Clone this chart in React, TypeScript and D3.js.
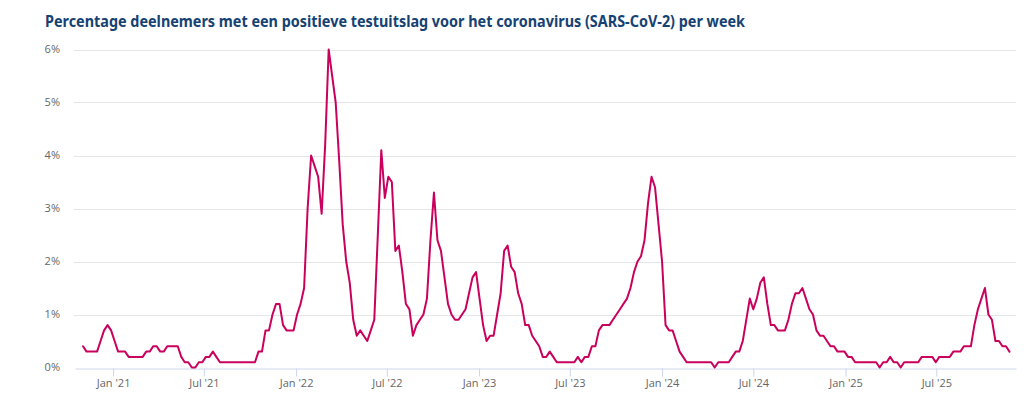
import React, { useRef, useEffect } from 'react';
import * as d3 from 'd3';

// weekly values (% positive), first week starts Monday 2 Nov 2020
const firstWeek = Date.UTC(2020, 10, 2);

const values2020 = [0.4, 0.3, 0.3, 0.3, 0.3, 0.5, 0.7, 0.8, 0.7];
const values2021 = [
  0.5, 0.3, 0.3, 0.3, 0.2, 0.2, 0.2, 0.2, 0.2, 0.3, 0.3, 0.4, 0.4,
  0.3, 0.3, 0.4, 0.4, 0.4, 0.4, 0.2, 0.1, 0.1, 0.0, 0.0, 0.1, 0.1,
  0.2, 0.2, 0.3, 0.2, 0.1, 0.1, 0.1, 0.1, 0.1, 0.1, 0.1, 0.1, 0.1,
  0.1, 0.1, 0.3, 0.3, 0.7, 0.7, 1.0, 1.2, 1.2, 0.8, 0.7, 0.7, 0.7,
];
const values2022 = [
  1.0, 1.2, 1.5, 3.0, 4.0, 3.8, 3.6, 2.9, 4.2, 6.0, 5.5, 5.0, 3.9,
  2.7, 2.0, 1.6, 0.9, 0.6, 0.7, 0.6, 0.5, 0.7, 0.9, 2.5, 4.1, 3.2,
  3.6, 3.5, 2.2, 2.3, 1.8, 1.2, 1.1, 0.6, 0.8, 0.9, 1.0, 1.3, 2.4,
  3.3, 2.4, 2.2, 1.7, 1.2, 1.0, 0.9, 0.9, 1.0, 1.1, 1.4, 1.7, 1.8,
];
const values2023 = [
  1.3, 0.8, 0.5, 0.6, 0.6, 1.0, 1.4, 2.2, 2.3, 1.9, 1.8, 1.4, 1.2,
  0.8, 0.8, 0.6, 0.5, 0.4, 0.2, 0.2, 0.3, 0.2, 0.1, 0.1, 0.1, 0.1,
  0.1, 0.1, 0.2, 0.1, 0.2, 0.2, 0.4, 0.4, 0.7, 0.8, 0.8, 0.8, 0.9,
  1.0, 1.1, 1.2, 1.3, 1.5, 1.8, 2.0, 2.1, 2.4, 3.1, 3.6, 3.4, 2.7,
];
const values2024 = [
  2.0, 0.8, 0.7, 0.7, 0.5, 0.3, 0.2, 0.1, 0.1, 0.1, 0.1, 0.1, 0.1,
  0.1, 0.1, 0.0, 0.1, 0.1, 0.1, 0.1, 0.2, 0.3, 0.3, 0.5, 0.9, 1.3,
  1.1, 1.3, 1.6, 1.7, 1.2, 0.8, 0.8, 0.7, 0.7, 0.7, 0.9, 1.2, 1.4,
  1.4, 1.5, 1.3, 1.1, 1.0, 0.7, 0.6, 0.6, 0.5, 0.4, 0.4, 0.3, 0.3,
  0.3,
];
const values2025 = [
  0.2, 0.2, 0.1, 0.1, 0.1, 0.1, 0.1, 0.1, 0.1, 0.0, 0.1, 0.1, 0.2,
  0.1, 0.1, 0.0, 0.1, 0.1, 0.1, 0.1, 0.1, 0.2, 0.2, 0.2, 0.2, 0.1,
  0.2, 0.2, 0.2, 0.2, 0.3, 0.3, 0.3, 0.4, 0.4, 0.4, 0.8, 1.1, 1.3,
  1.5, 1.0, 0.9, 0.5, 0.5, 0.4, 0.4, 0.3,
];

const yTicks = [0, 1, 2, 3, 4, 5, 6];
const title =
  'Percentage deelnemers met een positieve testuitslag voor het coronavirus (SARS-CoV-2) per week';

const App = () => {
  const svgRef = useRef<SVGSVGElement>(null);

  const width = 1024;
  const height = 395;
  const margin = { top: 49.5, right: 8, bottom: 27.5, left: 75 };

  useEffect(() => {
    const svg = d3.select(svgRef.current);
    svg.selectAll('*').remove();

    const data = [
      ...values2020, ...values2021, ...values2022,
      ...values2023, ...values2024, ...values2025,
    ].map((v, i) => ({ date: new Date(firstWeek + i * 7 * 864e5), value: v }));

    const x = d3
      .scaleUtc()
      .domain([new Date(Date.UTC(2020, 9, 17)), new Date(Date.UTC(2025, 11, 7))])
      .range([margin.left, width - margin.right]);

    const y = d3
      .scaleLinear()
      .domain([0, 6])
      .range([height - margin.bottom, margin.top]);

    const font = '"Open Sans", "Noto Sans", sans-serif';

    // title
    svg
      .append('text')
      .attr('x', 45)
      .attr('y', 27)
      .attr('fill', '#154273')
      .attr('font-family', '"Noto Sans", sans-serif')
      .attr('font-weight', 700)
      .attr('font-size', 16)
      .attr('textLength', 700)
      .attr('lengthAdjust', 'spacingAndGlyphs')
      .text(title);

    // grid lines
    svg
      .append('g')
      .selectAll('line')
      .data(yTicks.slice(1))
      .enter()
      .append('line')
      .attr('x1', 74)
      .attr('x2', width - margin.right)
      .attr('y1', (d) => Math.round(y(d)) + 0.5)
      .attr('y2', (d) => Math.round(y(d)) + 0.5)
      .attr('stroke', '#e6e6e6');

    // y labels
    svg
      .append('g')
      .selectAll('text')
      .data(yTicks)
      .enter()
      .append('text')
      .attr('x', 60)
      .attr('y', (d) => y(d))
      .attr('dy', '0.35em')
      .attr('text-anchor', 'end')
      .attr('fill', '#666666')
      .attr('font-family', font)
      .attr('font-size', 11)
      .text((d) => `${d}%`);

    // x axis
    const xAxis = svg
      .append('g')
      .attr('transform', `translate(0, ${Math.round(y(0)) + 0.5})`)
      .call(
        d3
          .axisBottom(x)
          .ticks(d3.utcMonth.every(6))
          .tickFormat((d) => d3.utcFormat("%b '%y")(d as Date))
          .tickSize(8)
          .tickSizeOuter(0)
      );
    xAxis.select('.domain').attr('stroke', '#ccd6eb');
    xAxis.selectAll('.tick line').attr('stroke', '#ccd6eb');
    xAxis
      .selectAll('.tick text')
      .attr('fill', '#666666')
      .attr('font-family', font)
      .attr('font-size', 11);

    // line
    const line = d3
      .line<{ date: Date; value: number }>()
      .x((d) => x(d.date))
      .y((d) => y(d.value));

    svg
      .append('path')
      .datum(data)
      .attr('d', line)
      .attr('fill', 'none')
      .attr('stroke', '#ca005d')
      .attr('stroke-width', 2)
      .attr('stroke-linejoin', 'round')
      .attr('stroke-linecap', 'round');
  }, []);

  return (
    <div style={{ position: 'absolute', left: 0, top: 0 }}>
      <svg ref={svgRef} width={width} height={height} style={{ display: 'block' }}></svg>
    </div>
  );
};

export default App;
